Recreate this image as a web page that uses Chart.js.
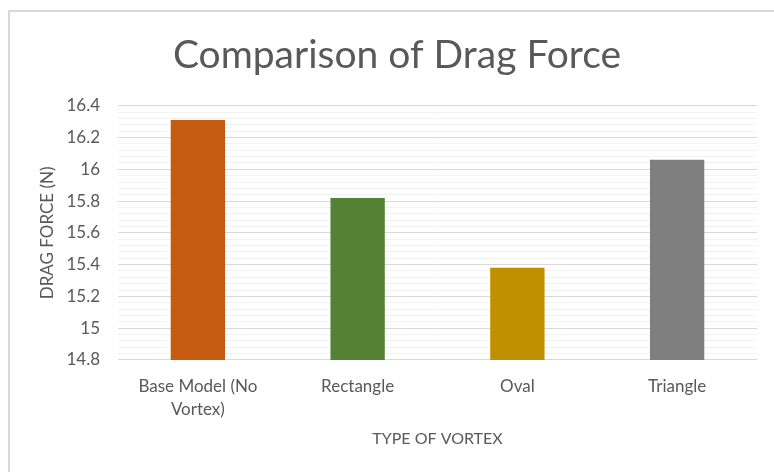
<!DOCTYPE html>
<html>
<head>
<meta charset="utf-8">
<script src="https://cdn.jsdelivr.net/npm/chart.js@4/dist/chart.umd.min.js"></script>
<style>
  html, body { margin: 0; padding: 0; background: #fff; }
  #wrap { position: relative; width: 774px; height: 472px; }
  #frame { position: absolute; left: 8px; top: 10px; right: 0; bottom: 0;
           border-top: 2px solid #d9d9d9; border-left: 2px solid #d9d9d9; }
  canvas { position: absolute; left: 0; top: 0; }
</style>
</head>
<body>
<div id="wrap">
  <div id="frame"></div>
  <canvas id="chart" width="774" height="472"></canvas>
</div>
<script>
// values
const vortexTypes = [["Base Model (No", "Vortex)"], "Rectangle", "Oval", "Triangle"]
const dragForce = [16.31, 15.82, 15.38, 16.06]
const barColors = ['#C55A11', '#548235', '#BF9000', '#7F7F7F']

const yMin = 14.8
const yMax = 16.4
const majorStep = 0.2
const minorStep = 0.04

const fontFamily = "Lato, 'Open Sans', sans-serif"
const textColor = '#595959'

// is this tick on the 0.2 grid?
function isMajor(value) {
  const n = Math.round((value - yMin) / minorStep)
  return n % Math.round(majorStep / minorStep) === 0
}

const data = {
  labels: vortexTypes,
  datasets: [
    {
      label: 'Drag Force',
      data: dragForce,
      backgroundColor: barColors,
      borderWidth: 0,
      categoryPercentage: 1,
      barPercentage: 0.34,
    }
  ]
}

const options = {
  responsive: false,
  animation: false,
  layout: {
    padding: { left: 37, right: 17, top: 4, bottom: 24 }
  },
  plugins: {
    legend: { display: false },
    tooltip: { enabled: false },
    title: {
      display: true,
      text: 'Comparison of Drag Force',
      color: textColor,
      font: { family: fontFamily, size: 39, weight: 'normal' },
      padding: { top: 28, bottom: 27 },
    }
  },
  scales: {
    x: {
      grid: { display: false },
      border: { display: false },
      ticks: {
        color: textColor,
        font: { family: fontFamily, size: 17, lineHeight: 1.35 },
        maxRotation: 0,
        padding: 7,
      },
      title: {
        display: true,
        text: 'TYPE OF VORTEX',
        color: textColor,
        font: { family: fontFamily, size: 16 },
        padding: { top: 1, bottom: 0 },
      },
      // the wide first label should not push the plot to the right
      afterFit: scale => {
        scale.paddingLeft = 0
        scale.paddingRight = 0
      }
    },
    y: {
      min: yMin,
      max: yMax,
      border: { display: false },
      grid: {
        drawTicks: false,
        color: ctx => isMajor(ctx.tick.value) ? '#d9d9d9' : '#f2f2f2',
        lineWidth: 1,
      },
      ticks: {
        stepSize: minorStep,
        autoSkip: false,
        padding: 18,
        color: textColor,
        font: { family: fontFamily, size: 17 },
        callback: value => isMajor(value) ? String(Number(value.toFixed(1))) : '',
      },
      title: {
        display: true,
        text: 'DRAG FORCE (N)',
        color: textColor,
        font: { family: fontFamily, size: 17 },
        padding: { top: 0, bottom: 8 },
      },
      afterFit: scale => {
        scale.width = 81
      }
    }
  }
}

const ctx = document.getElementById('chart').getContext('2d')
const chart = new Chart(ctx, { type: 'bar', data, options })
</script>
</body>
</html>
